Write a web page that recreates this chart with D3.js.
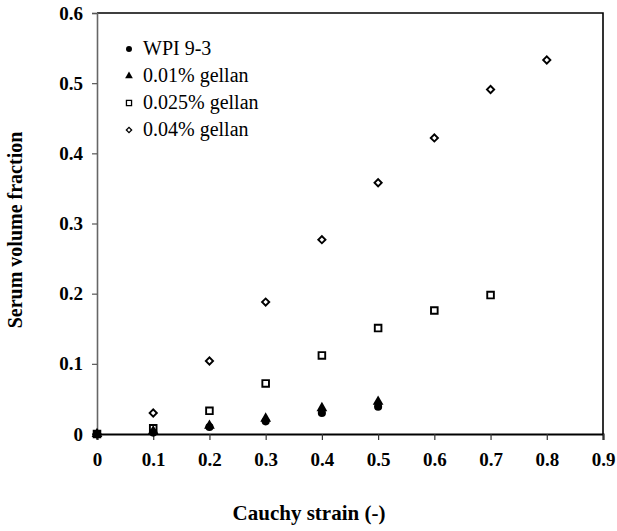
<!DOCTYPE html>
<html>
<head>
<meta charset="utf-8">
<script src="https://cdn.jsdelivr.net/npm/d3@7"></script>
<style>
  html, body { margin: 0; padding: 0; background: #fff; overflow: hidden; }
  svg { display: block; }
  text { font-family: "Liberation Serif", "Times New Roman", serif; fill: #000; }
</style>
</head>
<body>
<div id="chart"></div>
<script>
// strain values (x) and serum volume fraction per sample
const strain = [0, 0.1, 0.2, 0.3, 0.4, 0.5, 0.6, 0.7, 0.8];
const wpi = [0, 0.002, 0.01, 0.018, 0.03, 0.039];
const gellan001 = [0, 0.004, 0.012, 0.022, 0.037, 0.046];
const gellan0025 = [0, 0.008, 0.033, 0.072, 0.112, 0.151, 0.176, 0.198];
const gellan004 = [0, 0.03, 0.104, 0.188, 0.277, 0.358, 0.422, 0.491, 0.533];

const seriesNames = ["WPI 9-3", "0.01% gellan", "0.025% gellan", "0.04% gellan"];
const xTicks = [0, 0.1, 0.2, 0.3, 0.4, 0.5, 0.6, 0.7, 0.8, 0.9];
const yTicks = [0, 0.1, 0.2, 0.3, 0.4, 0.5, 0.6];

const margin = {top: 13, right: 14, bottom: 97, left: 97},
      width = 617,
      height = 531;
const innerWidth = width - margin.left - margin.right,
      innerHeight = height - margin.top - margin.bottom;

const svg = d3.select("#chart")
  .append("svg")
  .attr("width", width)
  .attr("height", height)
  .append("g")
  .attr("transform", `translate(${margin.left}, ${margin.top})`);

const x = d3.scaleLinear().domain([0, 0.9]).range([0, innerWidth]);
const y = d3.scaleLinear().domain([0, 0.6]).range([innerHeight, 0]);

// frame: top and right
svg.append("path")
  .attr("d", `M0,${y(0.6)}H${x(0.9)}V${y(0)}`)
  .attr("fill", "none")
  .attr("stroke", "#000")
  .attr("stroke-width", 1.6);

const fmt = d => d === 0 ? "0" : d3.format(".1f")(d);

// y axis
const yAxis = svg.append("g")
  .attr("font-family", null)
  .call(d3.axisLeft(y).tickValues(yTicks).tickSize(5).tickPadding(9).tickFormat(fmt));
yAxis.attr("font-family", "Liberation Serif").attr("font-size", 19);
yAxis.select(".domain").attr("stroke", "#666").attr("stroke-width", 1.6);
yAxis.selectAll(".tick line").attr("stroke", "#555").attr("stroke-width", 1.2);
yAxis.selectAll("text").style("font-weight", "bold");

// x axis
const xAxis = svg.append("g")
  .attr("transform", `translate(0, ${innerHeight})`)
  .call(d3.axisBottom(x).tickValues(xTicks).tickSize(6).tickPadding(13).tickFormat(fmt));
xAxis.attr("font-family", "Liberation Serif").attr("font-size", 19);
xAxis.select(".domain").attr("stroke", "#000").attr("stroke-width", 2);
xAxis.selectAll(".tick line").attr("stroke", "#333").attr("stroke-width", 1.2);
xAxis.selectAll("text").style("font-weight", "bold");

// titles
svg.append("text")
  .attr("x", 309 - margin.left)
  .attr("y", 520 - margin.top)
  .attr("text-anchor", "middle")
  .style("font-size", "21px")
  .style("font-weight", "bold")
  .text("Cauchy strain (-)");

svg.append("text")
  .attr("transform", `translate(${22 - margin.left}, ${230 - margin.top}) rotate(-90)`)
  .attr("text-anchor", "middle")
  .style("font-size", "20px")
  .style("font-weight", "bold")
  .text("Serum volume fraction");

// marker styles per series
const styles = [
  {type: d3.symbolCircle, size: 52, fill: "#000", stroke: "none", rot: 0, legendSize: 28},
  {type: d3.symbolTriangle, size: 50, fill: "#000", stroke: "none", rot: 0, legendSize: 26},
  {type: d3.symbolSquare, size: 44, fill: "#fff", stroke: "#000", rot: 0, legendSize: 26},
  {type: d3.symbolSquare, size: 26, fill: "#fff", stroke: "#000", rot: 45, legendSize: 14}
];
const seriesValues = [wpi, gellan001, gellan0025, gellan004];

// open markers first, filled markers on top
const drawOrder = [3, 2, 1, 0];
drawOrder.forEach(i => {
  const st = styles[i];
  const pts = seriesValues[i].map((v, j) => ({x: strain[j], y: v}));
  svg.append("g")
    .selectAll("path")
    .data(pts)
    .join("path")
    .attr("d", d3.symbol().type(st.type).size(st.size))
    .attr("transform", d => `translate(${x(d.x)}, ${y(d.y)}) rotate(${st.rot})`)
    .attr("fill", st.fill)
    .attr("stroke", st.stroke)
    .attr("stroke-width", 1.9);
});

// legend
const legend = svg.append("g")
  .attr("transform", `translate(${129 - margin.left}, ${55 - margin.top})`);

const legendItems = legend.selectAll("g")
  .data(seriesNames)
  .join("g")
  .attr("transform", (d, i) => `translate(0, ${i * 27})`);

legendItems.append("path")
  .attr("d", (d, i) => d3.symbol().type(styles[i].type).size(styles[i].legendSize)())
  .attr("transform", (d, i) => `translate(0, -6) rotate(${styles[i].rot})`)
  .attr("fill", (d, i) => styles[i].fill)
  .attr("stroke", (d, i) => styles[i].stroke)
  .attr("stroke-width", 1.3);

legendItems.append("text")
  .attr("x", 14)
  .attr("y", 0)
  .style("font-size", "20px")
  .text(d => d);
</script>
</body>
</html>
